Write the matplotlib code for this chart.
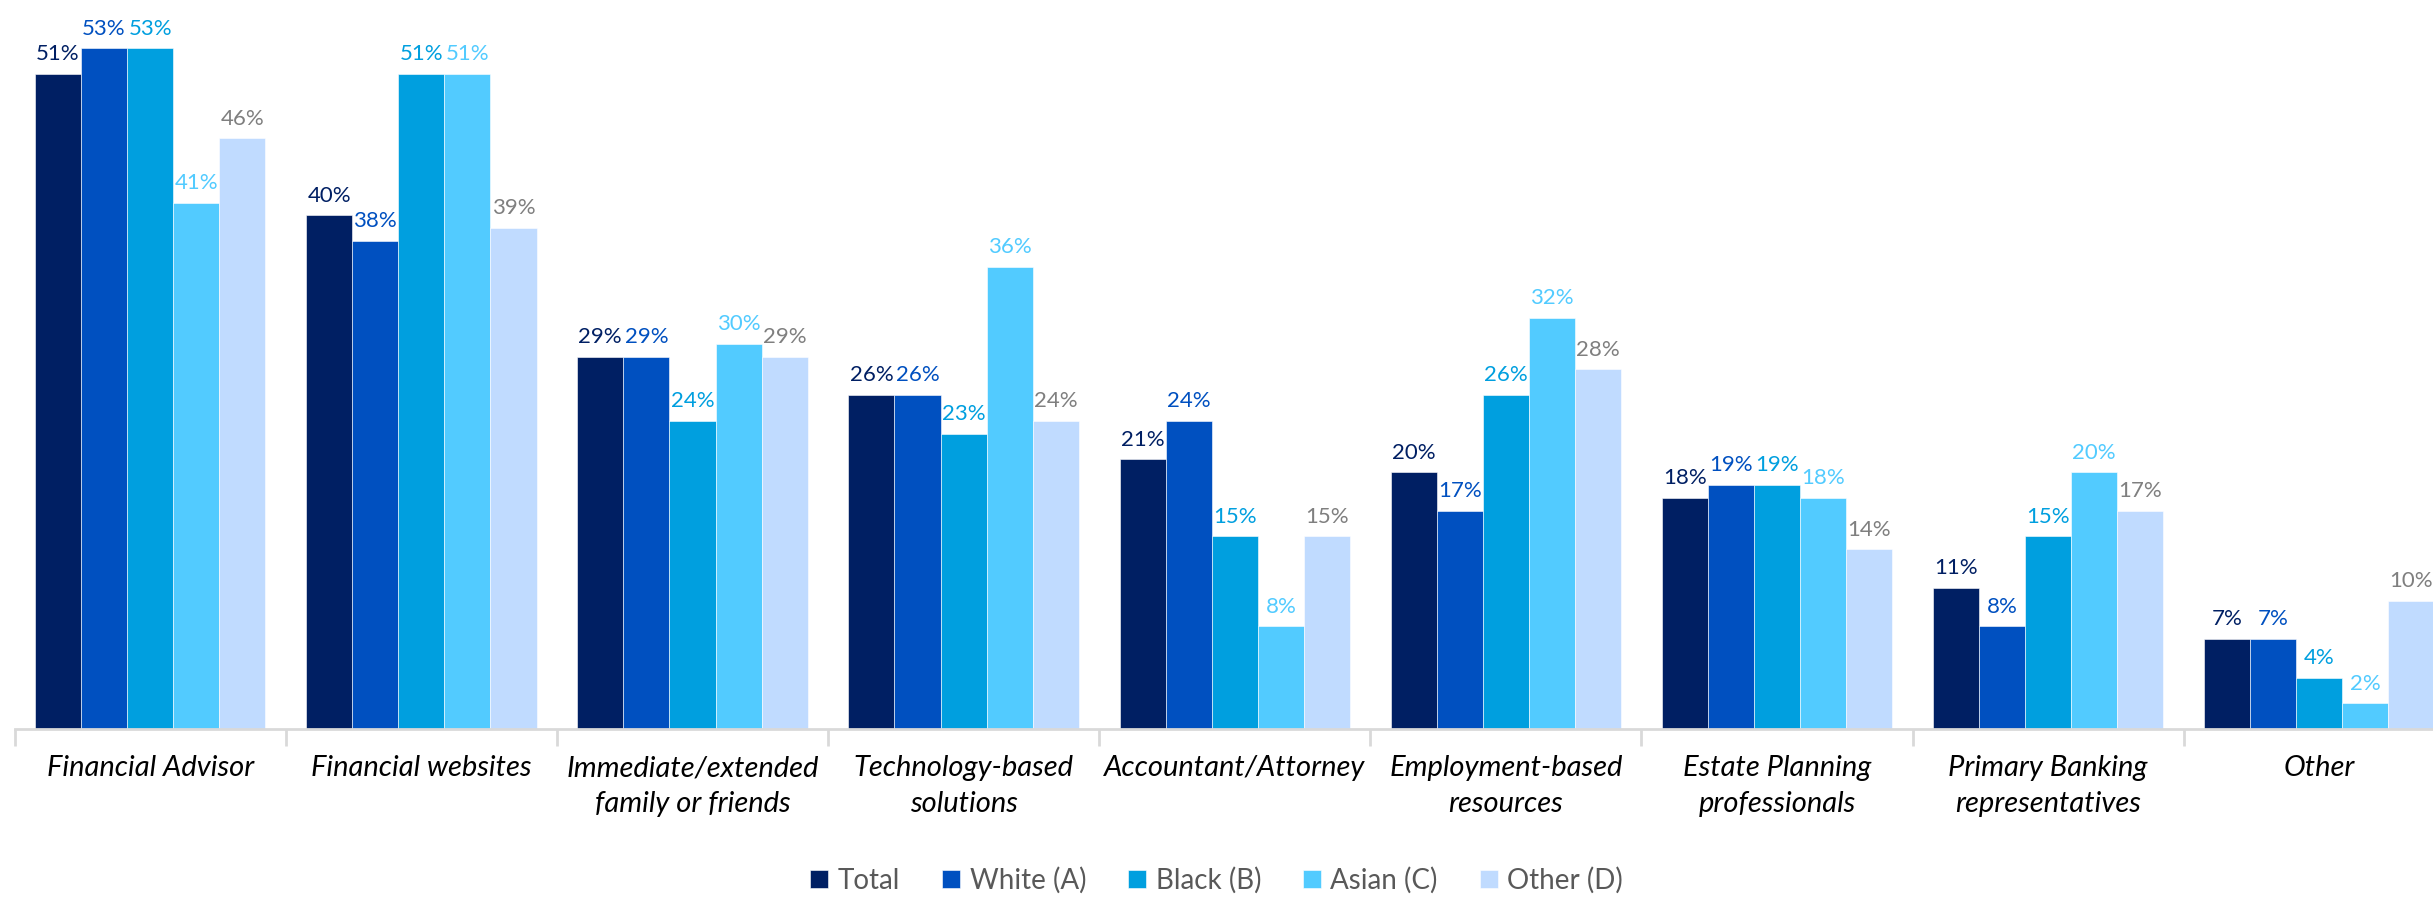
import numpy as np
import matplotlib as mpl
import matplotlib.pyplot as plt

mpl.use('agg')

categories = ['Financial Advisor', 'Financial websites', 'Immediate/extended\nfamily or friends',
              'Technology-based\nsolutions', 'Accountant/Attorney', 'Employment-based\nresources',
              'Estate Planning\nprofessionals', 'Primary Banking\nrepresentatives', 'Other']
series_names = ['Total', 'White (A)', 'Black (B)', 'Asian (C)', 'Other (D)']
total = [51, 40, 29, 26, 21, 20, 18, 11, 7]
white = [53, 38, 29, 26, 24, 17, 19, 8, 7]
black = [53, 51, 24, 23, 15, 26, 19, 15, 4]
asian = [41, 51, 30, 36, 8, 32, 18, 20, 2]
other = [46, 39, 29, 24, 15, 28, 14, 17, 10]

bar_colors = ['#001F63', '#0050C0', '#009FDF', '#52CBFF', '#C0DBFF']
label_colors = ['#001F63', '#0050C0', '#009FDF', '#52CBFF', '#7F7F7F']

plt.rcParams['font.family'] = ['Lato', 'DejaVu Sans']

fig = plt.figure(figsize=(24.33, 8.99), dpi=100)
ax = fig.add_axes([0.006, 0.189, 1.003, 0.80])

x = np.arange(len(categories))
w = 0.17
for i, vals in enumerate([total, white, black, asian, other]):
    pos = x + (i - 2) * w
    bars = ax.bar(pos, vals, w, color=bar_colors[i], label=series_names[i],
                  edgecolor='white', linewidth=0.4)
    for b, v in zip(bars, vals):
        ax.annotate(f'{v}%', (b.get_x() + b.get_width() / 2, v), xytext=(0, 7),
                    textcoords='offset points', ha='center', va='bottom',
                    fontsize=16, color=label_colors[i])

ax.set_xlim(-0.5, len(categories) - 0.5)
ax.set_ylim(0, 56)
ax.set_yticks([])
for s in ['top', 'right', 'left']:
    ax.spines[s].set_visible(False)
ax.spines['bottom'].set_color('#D9D9D9')
ax.spines['bottom'].set_linewidth(2)

ax.set_xticks(x)
ax.set_xticklabels(categories, fontsize=21, style='italic', color='black', linespacing=1.45)
ax.tick_params(axis='x', which='major', length=0, pad=19)
ax.set_xticks(np.arange(-0.5, len(categories), 1), minor=True)
ax.tick_params(axis='x', which='minor', length=12, width=2, color='#D9D9D9')

fig.legend(loc='lower center', bbox_to_anchor=(0.5, -0.022), ncol=5, frameon=False,
           fontsize=20, labelcolor='#595959', handlelength=0.65, handleheight=0.65,
           handletextpad=0.35, columnspacing=1.5)

fig.savefig('out.png', dpi=100)
